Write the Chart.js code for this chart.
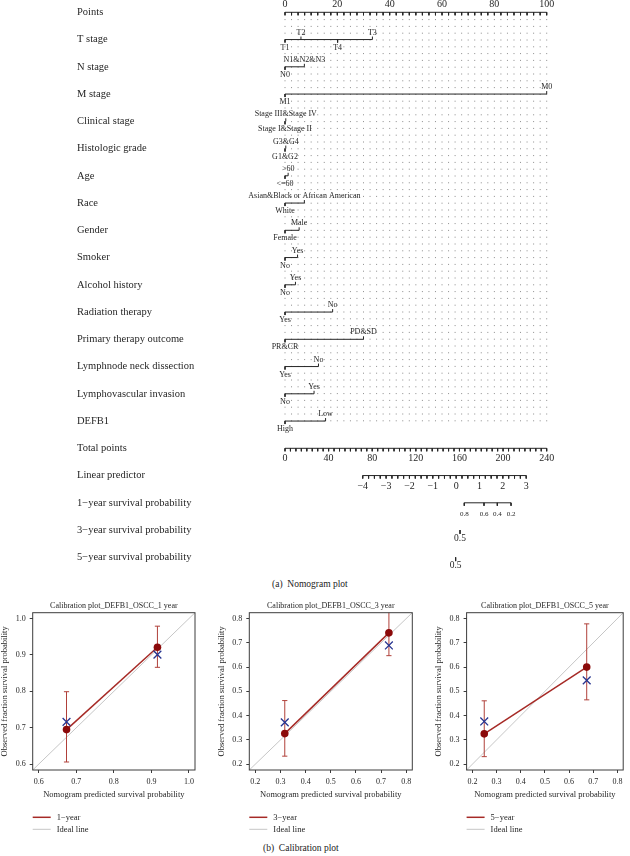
<!DOCTYPE html>
<html>
<head>
<meta charset="utf-8">
<title>Nomogram and calibration plots</title>
<script src="https://cdn.jsdelivr.net/npm/chart.js@4.4.1/dist/chart.umd.min.js"></script>
<style>
  body { margin: 0; background: #fff; }
  #page { position: relative; width: 630px; height: 856px; overflow: hidden; font-family: "Liberation Serif", serif; color: #222; }
  #page canvas { position: absolute; }
  .caption { position: absolute; font-size: 9.5px; line-height: 12px; white-space: pre; }
</style>
</head>
<body>
<div id="page">
  <canvas id="nomogram" width="630" height="575" style="left:0;top:0"></canvas>
  <div class="caption" style="left:272px;top:578px">(a)  Nomogram plot</div>
  <canvas id="cal1" width="210" height="244" style="left:0;top:596px"></canvas>
  <canvas id="cal3" width="210" height="244" style="left:210px;top:596px"></canvas>
  <canvas id="cal5" width="210" height="244" style="left:420px;top:596px"></canvas>
  <div class="caption" style="left:263px;top:842px">(b)  Calibration plot</div>
</div>
<script>
const SERIF = '"Liberation Serif", "Times New Roman", serif';
const INK = '#262626';

// ---- nomogram data ----
const rowNames = ['Points', 'T stage', 'N stage', 'M stage', 'Clinical stage', 'Histologic grade', 'Age', 'Race',
  'Gender', 'Smoker', 'Alcohol history', 'Radiation therapy', 'Primary therapy outcome', 'Lymphnode neck dissection',
  'Lymphovascular invasion', 'DEFB1', 'Total points', 'Linear predictor',
  '1\u2212year survival probability', '3\u2212year survival probability', '5\u2212year survival probability'];

const pointsLabels = [0, 20, 40, 60, 80, 100];

const predictorLevels = [
  ['T1', 'T2', 'T3', 'T4'],
  ['N0', 'N1&N2&N3'],
  ['M1', 'M0'],
  ['Stage I&Stage II', 'Stage III&Stage IV'],
  ['G1&G2', 'G3&G4'],
  ['<=60', '>60'],
  ['White', 'Asian&Black or African American'],
  ['Female', 'Male'],
  ['No', 'Yes'],
  ['No', 'Yes'],
  ['Yes', 'No'],
  ['PR&CR', 'PD&SD'],
  ['Yes', 'No'],
  ['No', 'Yes'],
  ['High', 'Low']
];
const predictorPoints = [
  [0, 6.1, 33.4, 20.1],
  [0, 7.4],
  [0, 100],
  [0, 0.3],
  [0, 0.3],
  [0, 1.2],
  [0, 7.4],
  [0, 5.4],
  [0, 4.8],
  [0, 4.0],
  [0, 18.2],
  [0, 30],
  [0, 12.8],
  [0, 11.1],
  [0, 15.5]
];

const totalLabels = [0, 40, 80, 120, 160, 200, 240];
const lpLabels = [-4, -3, -2, -1, 0, 1, 2, 3];
const lpAnchorTotal = [71.3, 221.2];          // total points where LP = -4 and LP = 3
const surv1Labels = ['0.8', '0.6', '0.4', '0.2'];
const surv1Total = [164.4, 182.5, 194.7, 207.3];
const surv3Labels = ['0.5'];
const surv3Total = [160.5];
const surv5Labels = ['0.5'];
const surv5Total = [156.5];

// ---- nomogram style ----
const levelAbove = [[false, true, true, false]].concat(predictorLevels.slice(1).map(() => [false, true]));
const TICK = 0.11;   // tick length in row units
const GRID_END = 15.1;

function steps(from, to, by) {
  const out = [];
  for (let v = from; v <= to + 1e-9; v += by) out.push(+v.toFixed(4));
  return out;
}
function segData(list) {
  const out = [];
  list.forEach(s => out.push({ x: s[0], y: s[1] }, { x: s[2], y: s[3] }, { x: NaN, y: NaN }));
  return out;
}
function rowSet(axisID, segments, extra) {
  return Object.assign({
    type: 'line', xAxisID: axisID, yAxisID: 'y', data: segData(segments),
    borderColor: INK, borderWidth: 1, pointRadius: 0, tension: 0, spanGaps: false, clip: false, order: 1
  }, extra || {});
}

const lpPerUnit = (lpAnchorTotal[1] - lpAnchorTotal[0]) / (lpLabels[lpLabels.length - 1] - lpLabels[0]);
const lpMin = lpLabels[0] - lpAnchorTotal[0] / lpPerUnit;
const lpMax = lpLabels[lpLabels.length - 1] + (240 - lpAnchorTotal[1]) / lpPerUnit;

const nomoSets = [];
// dotted reference grid
nomoSets.push(rowSet('x', steps(0, 100, 2.5).map(t => [t, 0, t, GRID_END]),
  { borderColor: '#8c8c8c', borderDash: [1, 5.8], order: 5 }));
// points axis
nomoSets.push(rowSet('x', [[0, 0, 100, 0]].concat(steps(0, 100, 2.5).map(t => [t, 0, t, TICK]))));
// predictors
predictorPoints.forEach((pts, k) => {
  const row = k + 1;
  const segs = [[Math.min(...pts), row, Math.max(...pts), row]];
  pts.forEach((p, j) => segs.push([p, row, p, row + (levelAbove[k][j] ? -TICK : TICK)]));
  nomoSets.push(rowSet('x', segs));
});
// total points
nomoSets.push(rowSet('xt', [[0, 16, 240, 16]].concat(steps(0, 240, 5).map(t => [t, 16, t, 16 + TICK]))));
// linear predictor
nomoSets.push(rowSet('xl', [[lpLabels[0], 17, lpLabels[lpLabels.length - 1], 17]]
  .concat(steps(lpLabels[0], lpLabels[lpLabels.length - 1], 0.25).map(t => [t, 17, t, 17 + TICK]))));
// survival probability rows
nomoSets.push(rowSet('xt', [[Math.min(...surv1Total), 18, Math.max(...surv1Total), 18]]
  .concat(surv1Total.map(t => [t, 18, t, 18 + TICK]))));
nomoSets.push(rowSet('xt', surv3Total.map(t => [t, 19, t, 19 + 0.14])));
nomoSets.push(rowSet('xt', surv5Total.map(t => [t, 20, t, 20 + 0.14])));

function fmtMinus(v) { return v < 0 ? '\u2212' + Math.abs(v) : String(v); }

const nomoText = {
  id: 'nomoText',
  afterDatasetsDraw(chart) {
    const { ctx } = chart;
    const { x: xp, xt, xl, y } = chart.scales;
    ctx.save();
    ctx.fillStyle = INK;
    ctx.textBaseline = 'middle';
    ctx.textAlign = 'left';
    ctx.font = '10.5px ' + SERIF;
    rowNames.forEach((name, i) => ctx.fillText(name, 77, y.getPixelForValue(i)));

    ctx.textAlign = 'center';
    ctx.font = '10px ' + SERIF;
    pointsLabels.forEach(v => ctx.fillText(String(v), xp.getPixelForValue(v), y.getPixelForValue(0) - 7.5));

    ctx.font = '8px ' + SERIF;
    predictorLevels.forEach((levels, k) => {
      const py = y.getPixelForValue(k + 1);
      levels.forEach((lab, j) => {
        ctx.fillText(lab, xp.getPixelForValue(predictorPoints[k][j]), py + (levelAbove[k][j] ? -7 : 8));
      });
    });

    ctx.font = '10px ' + SERIF;
    totalLabels.forEach(v => ctx.fillText(String(v), xt.getPixelForValue(v), y.getPixelForValue(16) + 10.5));
    lpLabels.forEach(v => ctx.fillText(fmtMinus(v), xl.getPixelForValue(v), y.getPixelForValue(17) + 10.5));

    ctx.font = '7px ' + SERIF;
    surv1Labels.forEach((lab, j) => ctx.fillText(lab, xt.getPixelForValue(surv1Total[j]), y.getPixelForValue(18) + 11.5));
    ctx.font = '9.5px ' + SERIF;
    surv3Labels.forEach((lab, j) => ctx.fillText(lab, xt.getPixelForValue(surv3Total[j]), y.getPixelForValue(19) + 8.5));
    surv5Labels.forEach((lab, j) => ctx.fillText(lab, xt.getPixelForValue(surv5Total[j]), y.getPixelForValue(20) + 8.5));
    ctx.restore();
  }
};

new Chart(document.getElementById('nomogram'), {
  type: 'line',
  data: { datasets: nomoSets },
  options: {
    responsive: false,
    animation: false,
    events: [],
    layout: { padding: { left: 285, right: 83.3, top: 12.3, bottom: 17.7 } },
    plugins: { legend: { display: false }, tooltip: { enabled: false } },
    scales: {
      x: { type: 'linear', axis: 'x', min: 0, max: 100, display: false },
      xt: { type: 'linear', axis: 'x', min: 0, max: 240, display: false },
      xl: { type: 'linear', axis: 'x', min: lpMin, max: lpMax, display: false },
      y: { type: 'linear', min: 0, max: 20, reverse: true, display: false }
    }
  },
  plugins: [nomoText]
});

// ---- calibration data ----
const cal1Title = 'Calibration plot_DEFB1_OSCC_1 year';
const cal1Pred = [0.674, 0.916];
const cal1Obs = [0.695, 0.921];
const cal1Lower = [0.606, 0.866];
const cal1Upper = [0.799, 0.979];
const cal1Corrected = [0.716, 0.901];
const cal1Ticks = [0.6, 0.7, 0.8, 0.9, 1.0];
const cal1Range = [0.584, 1.016];

const cal3Title = 'Calibration plot_DEFB1_OSCC_3 year';
const cal3Pred = [0.317, 0.731];
const cal3Obs = [0.326, 0.741];
const cal3Lower = [0.233, 0.647];
const cal3Upper = [0.462, 0.84];
const cal3Corrected = [0.372, 0.689];
const cal3Ticks = [0.2, 0.3, 0.4, 0.5, 0.6, 0.7, 0.8];
const cal3Range = [0.176, 0.824];

const cal5Title = 'Calibration plot_DEFB1_OSCC_5 year';
const cal5Pred = [0.249, 0.673];
const cal5Obs = [0.325, 0.600];
const cal5Lower = [0.231, 0.465];
const cal5Upper = [0.461, 0.778];
const cal5Corrected = [0.376, 0.545];
const cal5Ticks = [0.2, 0.3, 0.4, 0.5, 0.6, 0.7, 0.8];
const cal5Range = [0.176, 0.824];

const idealLine = [0, 1.2];

// ---- calibration style ----
const RED = '#a62a26';
const DOT = '#8b0a0a';
const BAR = '#b0403a';
const BLUE = '#283590';
const GRAY = '#c6c6c6';
const AXIS = '#3c3c3c';
const calPads = [[0, 15], [6.6, 7.7], [13.9, 0.7]];

const calFrame = {
  id: 'calFrame',
  afterDatasetsDraw(chart) {
    const { ctx, chartArea: a } = chart;
    ctx.save();
    ctx.strokeStyle = AXIS;
    ctx.lineWidth = 1;
    ctx.strokeRect(a.left, a.top, a.right - a.left, a.bottom - a.top);
    ctx.restore();
  }
};

const calLegend = {
  id: 'calLegend',
  afterDraw(chart, args, opts) {
    const { ctx, chartArea: a } = chart;
    ctx.save();
    ctx.font = '8.5px ' + SERIF;
    ctx.textBaseline = 'middle';
    ctx.textAlign = 'left';
    chart.data.datasets.filter(d => d.inLegend).forEach((d, i) => {
      const y = a.bottom + opts.dy + i * opts.gap;
      ctx.strokeStyle = d.borderColor;
      ctx.lineWidth = d.borderWidth;
      ctx.beginPath();
      ctx.moveTo(a.left, y);
      ctx.lineTo(a.left + opts.len, y);
      ctx.stroke();
      ctx.fillStyle = INK;
      ctx.fillText(d.label, a.left + opts.textGap, y);
    });
    ctx.restore();
  }
};

function calChart(id, title, name, pred, obs, lower, upper, corr, ticks, range, pads) {
  const tickFont = { family: SERIF, size: 8 };
  const titleFont = { family: SERIF, size: 8.5 };
  const setTicks = s => { s.ticks = ticks.map(v => ({ value: v })); };
  new Chart(document.getElementById(id), {
    type: 'line',
    data: {
      datasets: [
        { label: name, inLegend: true, data: pred.map((x, i) => ({ x, y: obs[i] })),
          borderColor: RED, borderWidth: 1.5, pointRadius: 3.8, pointBackgroundColor: DOT,
          pointBorderColor: DOT, pointBorderWidth: 0, order: 2 },
        { label: 'ci', data: pred.flatMap((x, i) => [{ x, y: lower[i] }, { x, y: upper[i] }, { x: NaN, y: NaN }]),
          borderColor: BAR, borderWidth: 1, pointRadius: 0, spanGaps: false, order: 3 },
        { label: 'caps', data: pred.flatMap((x, i) => [{ x, y: lower[i] }, { x, y: upper[i] }]),
          showLine: false, pointStyle: 'line', pointRadius: 2.6, pointBorderColor: BAR, borderColor: BAR,
          pointBorderWidth: 1, order: 3 },
        { label: 'corrected', data: pred.map((x, i) => ({ x, y: corr[i] })), showLine: false,
          pointStyle: 'crossRot', pointRadius: 5.5, pointBorderColor: BLUE, borderColor: BLUE,
          pointBorderWidth: 1.3, order: 0 },
        { label: 'Ideal line', inLegend: true, data: idealLine.map(v => ({ x: v, y: v })),
          borderColor: GRAY, borderWidth: 1, pointRadius: 0, order: 5 }
      ]
    },
    options: {
      responsive: false,
      animation: false,
      events: [],
      layout: { padding: { left: pads[0], right: pads[1], top: 0, bottom: 40.6 } },
      plugins: {
        legend: { display: false },
        tooltip: { enabled: false },
        title: { display: true, text: title, fullSize: false, color: INK,
          font: { family: SERIF, size: 8, weight: 'normal' }, padding: { top: 5.2, bottom: 1.9 } },
        calLegend: { dy: 47.3, gap: 12, len: 18, textGap: 24 }
      },
      scales: {
        x: {
          type: 'linear', min: range[0], max: range[1],
          afterBuildTicks: setTicks,
          afterFit: s => { s.height = 29.4; },
          border: { display: false },
          grid: { drawOnChartArea: false, drawTicks: true, tickLength: 3, color: AXIS },
          ticks: { font: tickFont, color: INK, padding: 4, maxRotation: 0, autoSkip: false, callback: v => v.toFixed(1) },
          title: { display: true, text: 'Nomogram predicted survival probability', font: titleFont, color: INK, padding: 0 }
        },
        y: {
          type: 'linear', min: range[0], max: range[1],
          afterBuildTicks: setTicks,
          afterFit: s => { s.width = 32.7; },
          border: { display: false },
          grid: { drawOnChartArea: false, drawTicks: true, tickLength: 3, color: AXIS },
          ticks: { font: tickFont, color: INK, padding: 4, autoSkip: false, callback: v => v.toFixed(1) },
          title: { display: true, text: 'Observed fraction survival probability', font: titleFont, color: INK, padding: 0 }
        }
      }
    },
    plugins: [calFrame, calLegend]
  });
}

calChart('cal1', cal1Title, '1\u2212year', cal1Pred, cal1Obs, cal1Lower, cal1Upper, cal1Corrected, cal1Ticks, cal1Range, calPads[0]);
calChart('cal3', cal3Title, '3\u2212year', cal3Pred, cal3Obs, cal3Lower, cal3Upper, cal3Corrected, cal3Ticks, cal3Range, calPads[1]);
calChart('cal5', cal5Title, '5\u2212year', cal5Pred, cal5Obs, cal5Lower, cal5Upper, cal5Corrected, cal5Ticks, cal5Range, calPads[2]);
</script>
</body>
</html>
